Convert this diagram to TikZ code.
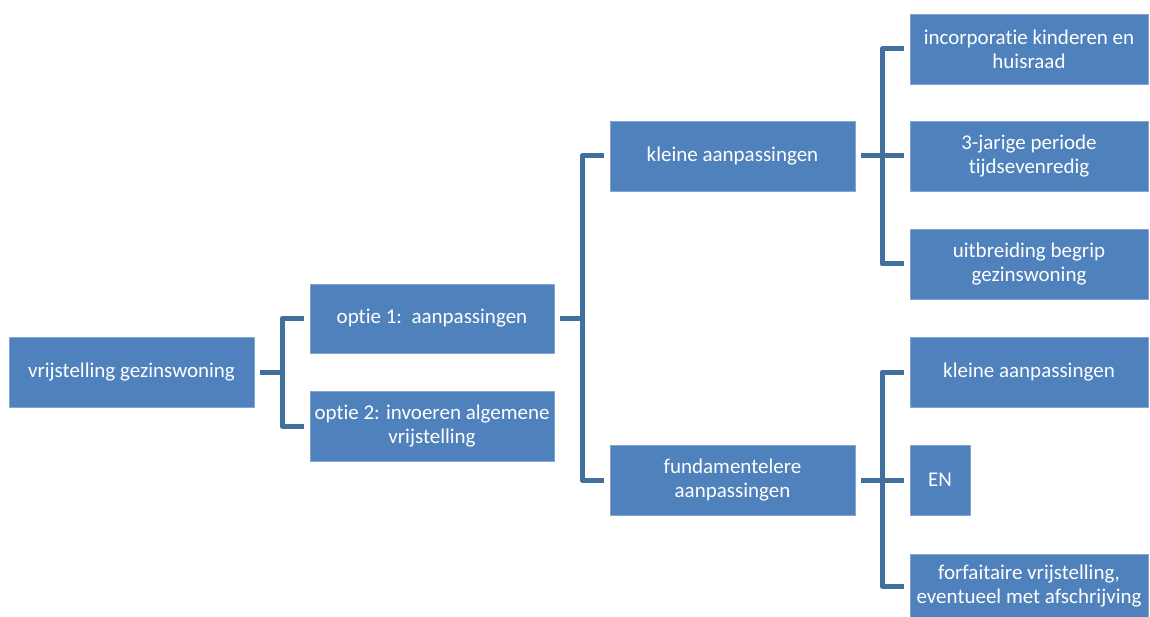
\documentclass[tikz,border=0pt]{standalone}
\usepackage{fontspec}
\setmainfont[Ligatures=NoCommon]{Carlito}
\definecolor{boxblue}{HTML}{4F81BD}
\definecolor{linkblue}{HTML}{41709E}
\begin{document}
\begin{tikzpicture}[x=1pt,y=-1pt,
  box/.style={fill=boxblue, draw=boxblue!70!white, line width=0.6pt, text=white, inner sep=0pt, align=center,
    minimum width=245pt, minimum height=70pt, font=\fontsize{21}{24}\selectfont},
  leaf/.style={box, minimum width=238pt},
  conn/.style={draw=linkblue, line width=5pt, line join=round}]
\useasboundingbox (0,0) rectangle (1150,617);
\node[box] (root) at (131.5,372) {vrijstelling gezinswoning};
\node[box, minimum width=244pt, minimum height=69pt] (opt1) at (432,318.5) {optie 1:\ \ aanpassingen};
\node[box, minimum width=244pt] (opt2) at (432,426) {optie 2: invoeren algemene\\vrijstelling};
\node[box] (klein) at (732.5,156) {kleine aanpassingen};
\node[box] (fund) at (732.5,480) {fundamentelere\\aanpassingen};
\node[leaf] (l1) at (1029,49) {incorporatie kinderen en\\huisraad};
\node[leaf] (l2) at (1029,156) {3-jarige periode\\tijdsevenredig};
\node[leaf] (l3) at (1029,264) {uitbreiding begrip\\gezinswoning};
\node[leaf] (l4) at (1029,372) {kleine aanpassingen};
\node[box, minimum width=60pt] (en) at (940,480) {EN};
\node[leaf, minimum height=64pt] (l6) at (1029,586) {forfaitaire vrijstelling,\\eventueel met afschrijving};
% brackets
\coordinate (b0) at (282,372);
\coordinate (b1) at (582,318.5);
\coordinate (b2) at (882,156);
\coordinate (b3) at (882,480);
\draw[conn] ([xshift=6pt]root.east) -- (b0);
\draw[conn] ([xshift=-6pt]opt1.west) -| (b0) |- ([xshift=-6pt]opt2.west);
\draw[conn] ([xshift=6pt]opt1.east) -- (b1);
\draw[conn] ([xshift=-6pt]klein.west) -| (b1) |- ([xshift=-6pt]fund.west);
\draw[conn] ([xshift=6pt]klein.east) -- ([xshift=-6pt]l2.west);
\draw[conn] ([xshift=-6pt]l1.west) -| (b2) |- ([xshift=-6pt]l3.west);
\draw[conn] ([xshift=6pt]fund.east) -- ([xshift=-6pt]en.west);
\draw[conn] ([xshift=-6pt]l4.west) -| (b3) |- ([xshift=-6pt]l6.west);
\end{tikzpicture}
\end{document}
